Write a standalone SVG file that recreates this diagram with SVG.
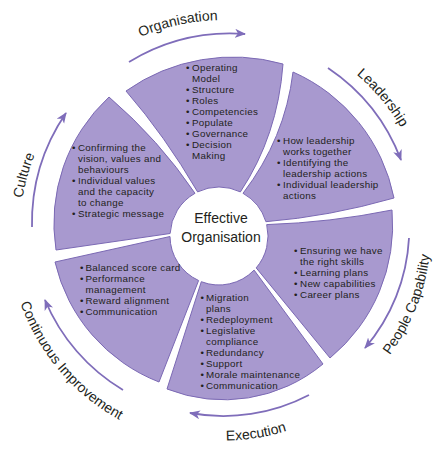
<svg xmlns="http://www.w3.org/2000/svg" xmlns:xlink="http://www.w3.org/1999/xlink" width="445" height="454" viewBox="0 0 445 454">
<style>
.petal{fill:#a899cf;stroke:#7b69b4;stroke-width:1}
.t{font-family:"Liberation Sans",Arial,sans-serif;font-size:9.8px;letter-spacing:0.3px;fill:#231f20}
.lbl{font-family:"Liberation Sans",Arial,sans-serif;font-size:14px;fill:#231f20}
.arr{fill:none;stroke:#7f6dba;stroke-width:1.8;marker-end:url(#ah)}
</style>
<defs>
<marker id="ah" markerUnits="userSpaceOnUse" markerWidth="12" markerHeight="10" refX="10" refY="4.5" orient="auto">
<path d="M0,0 L11,4.5 L0,9 L3,4.5 Z" fill="#7f6dba"/>
</marker>
<path id="pOrg" d="M74.8,81.8 A211,211 0 0 1 296.2,32.7"/>
<path id="pLead" d="M277.1,33 A205,205 0 0 1 428.2,213.1"/>
<path id="pCul" d="M31.6,298.8 A204,204 0 0 1 94.5,73.4"/>
<path id="pPC" d="M339,403.1 A207,207 0 0 0 425.9,185.3"/>
<path id="pEx" d="M132.2,419.3 A209.5,209.5 0 0 0 369.5,381.7"/>
<path id="pCI" d="M8.8,249.8 A216,216 0 0 0 170.3,440.2"/>
</defs>
<rect width="445" height="454" fill="#ffffff"/>

<g id="connectors">
<path class="arr" d="M129,62 A195,195 0 0 1 245,34"/>
<path class="arr" d="M328,68 A193,193 0 0 1 401,160"/>
<path class="arr" d="M409,238 A184,184 0 0 1 365,348"/>
<path class="arr" d="M309,395 A185,185 0 0 1 190,413"/>
<path class="arr" d="M123,390 A190,190 0 0 1 45,300"/>
<path class="arr" d="M32,227 A195,195 0 0 1 66,113"/>
</g>

<g id="labels">
<text class="lbl"><textPath href="#pOrg" xlink:href="#pOrg" startOffset="50%" text-anchor="middle">Organisation</textPath></text>
<text class="lbl"><textPath href="#pLead" xlink:href="#pLead" startOffset="50%" text-anchor="middle">Leadership</textPath></text>
<text class="lbl"><textPath href="#pPC" xlink:href="#pPC" startOffset="50%" text-anchor="middle">People Capability</textPath></text>
<text class="lbl"><textPath href="#pEx" xlink:href="#pEx" startOffset="50%" text-anchor="middle">Execution</textPath></text>
<text class="lbl"><textPath href="#pCI" xlink:href="#pCI" startOffset="54.8">Continuous</textPath></text>
<text class="lbl"><textPath href="#pCI" xlink:href="#pCI" startOffset="129.5">Improvement</textPath></text>
<text class="lbl"><textPath href="#pCul" xlink:href="#pCul" startOffset="50%" text-anchor="middle">Culture</textPath></text>
</g>

<g id="center">
<circle cx="219" cy="236" r="49" fill="#ffffff"/>
<text class="lbl" text-anchor="middle"><tspan x="221" y="223">Effective</tspan><tspan x="221" y="241.5">Organisation</tspan></text>
</g>

<g id="organisation">
<path class="petal" d="M126,91 A185,185 0 0 1 283,64 Q277.7,135.6 240.4,191.9 A49,49 0 0 0 197.6,191.9 Q165,136 126,91 Z"/>
<text class="t">
<tspan x="186" y="71">•</tspan><tspan x="192" y="71">Operating</tspan>
<tspan x="192" y="82">Model</tspan>
<tspan x="186" y="93">•</tspan><tspan x="192" y="93">Structure</tspan>
<tspan x="186" y="104">•</tspan><tspan x="192" y="104">Roles</tspan>
<tspan x="186" y="115">•</tspan><tspan x="192" y="115">Competencies</tspan>
<tspan x="186" y="126">•</tspan><tspan x="192" y="126">Populate</tspan>
<tspan x="186" y="137">•</tspan><tspan x="192" y="137">Governance</tspan>
<tspan x="186" y="148">•</tspan><tspan x="192" y="148">Decision</tspan>
<tspan x="192" y="159">Making</tspan>
</text>
</g>

<g id="leadership">
<path class="petal" d="M293,72 A175,175 0 0 1 394,198 Q329.5,216.5 265.9,221.7 A49,49 0 0 0 243,193.3 Q285,138.4 293,72 Z"/>
<text class="t">
<tspan x="277" y="144">•</tspan><tspan x="283" y="144">How leadership</tspan>
<tspan x="283" y="155">works together</tspan>
<tspan x="277" y="166">•</tspan><tspan x="283" y="166">Identifying the</tspan>
<tspan x="283" y="177">leadership actions</tspan>
<tspan x="277" y="188">•</tspan><tspan x="283" y="188">Individual leadership</tspan>
<tspan x="283" y="199">actions</tspan>
</text>
</g>

<g id="people-capability">
<path class="petal" d="M392,210 A172,172 0 0 1 330,358 L256.2,267.9 A49,49 0 0 0 266.7,224.6 Q330.5,222.5 392,210 Z"/>
<text class="t">
<tspan x="294" y="254">•</tspan><tspan x="300" y="254">Ensuring we have</tspan>
<tspan x="300" y="265">the right skills</tspan>
<tspan x="294" y="276">•</tspan><tspan x="300" y="276">Learning plans</tspan>
<tspan x="294" y="287">•</tspan><tspan x="300" y="287">New capabilities</tspan>
<tspan x="294" y="298">•</tspan><tspan x="300" y="298">Career plans</tspan>
</text>
</g>

<g id="execution">
<path class="petal" d="M323,364 A155,155 0 0 1 167,389 L201.3,281.7 A49,49 0 0 0 254.1,270.1 L323,364 Z"/>
<text class="t">
<tspan x="200.5" y="301">•</tspan><tspan x="206" y="301">Migration</tspan>
<tspan x="206" y="312">plans</tspan>
<tspan x="200.5" y="323">•</tspan><tspan x="206" y="323">Redeployment</tspan>
<tspan x="200.5" y="334">•</tspan><tspan x="206" y="334">Legislative</tspan>
<tspan x="206" y="345">compliance</tspan>
<tspan x="200.5" y="356">•</tspan><tspan x="206" y="356">Redundancy</tspan>
<tspan x="200.5" y="367">•</tspan><tspan x="206" y="367">Support</tspan>
<tspan x="200.5" y="378">•</tspan><tspan x="206" y="378">Morale maintenance</tspan>
<tspan x="200.5" y="389">•</tspan><tspan x="206" y="389">Communication</tspan>
</text>
</g>

<g id="continuous-improvement">
<path class="petal" d="M159,382 A170,170 0 0 1 55,262 L170,236.5 A49,49 0 0 0 198.6,280.5 L159,382 Z"/>
<text class="t">
<tspan x="80" y="271">•</tspan><tspan x="85.5" y="271">Balanced score card</tspan>
<tspan x="80" y="282">•</tspan><tspan x="85.5" y="282">Performance</tspan>
<tspan x="85.5" y="293">management</tspan>
<tspan x="80" y="304">•</tspan><tspan x="85.5" y="304">Reward alignment</tspan>
<tspan x="80" y="315">•</tspan><tspan x="85.5" y="315">Communication</tspan>
</text>
</g>

<g id="culture">
<path class="petal" d="M56,250 A172,172 0 0 1 109,97 Q159,140 195,193.3 A49,49 0 0 0 170.1,233.5 L56,250 Z"/>
<text class="t">
<tspan x="72" y="151">•</tspan><tspan x="78" y="151">Confirming the</tspan>
<tspan x="78" y="162">vision, values and</tspan>
<tspan x="78" y="173">behaviours</tspan>
<tspan x="72" y="184">•</tspan><tspan x="78" y="184">Individual values</tspan>
<tspan x="78" y="195">and the capacity</tspan>
<tspan x="78" y="206">to change</tspan>
<tspan x="72" y="217">•</tspan><tspan x="78" y="217">Strategic message</tspan>
</text>
</g>
</svg>
